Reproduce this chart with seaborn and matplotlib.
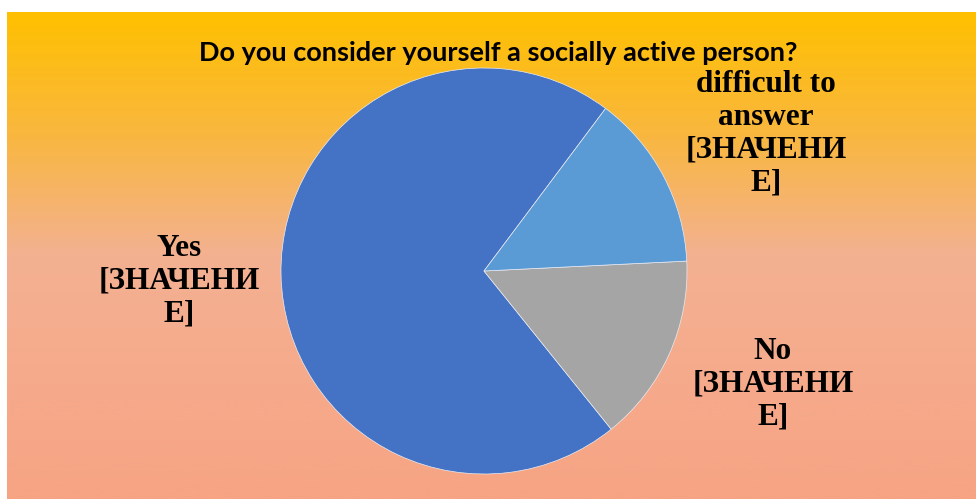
import numpy as np
import matplotlib
matplotlib.use("Agg")
import matplotlib.pyplot as plt
import seaborn as sns
from matplotlib.colors import LinearSegmentedColormap

# data
categories = ["Yes", "No", "difficult to answer"]
values = [71, 15, 14]
labels = ["Yes\n[ЗНАЧЕНИ\nЕ]", "No\n[ЗНАЧЕНИ\nЕ]", "difficult to\nanswer\n[ЗНАЧЕНИ\nЕ]"]
colors = ["#4472C4", "#A5A5A5", "#5B9BD5"]
title = "Do you consider yourself a socially active person?"

sns.set_theme(style="white")

W, H = 976, 502
fig = plt.figure(figsize=(W / 100, H / 100), dpi=100)
fig.patch.set_facecolor("white")

def px(x, y):
    # pixel (from top-left) -> figure fraction
    return x / W, 1 - y / H

# gradient background
bg = fig.add_axes([7 / W, 2 / H, (W - 7) / W, (H - 15) / H])
bg.set_axis_off()
cmap = LinearSegmentedColormap.from_list(
    "bg", [(0.0, "#FFC000"), (0.25, "#F9B73F"), (0.5, "#F3B192"),
           (0.8, "#F6A98A"), (1.0, "#F6A483")])
grad = np.linspace(0, 1, 256).reshape(-1, 1)
bg.imshow(grad, aspect="auto", cmap=cmap, extent=[0, 1, 0, 1], origin="upper")
bg.set_xlim(0, 1)
bg.set_ylim(0, 1)

# pie
cx, cy, r = 484, 272, 203
ax = fig.add_axes([(cx - r) / W, (H - cy - r) / H, 2 * r / W, 2 * r / H])
ax.pie(values, colors=colors, startangle=53.2, counterclock=True,
       wedgeprops=dict(edgecolor="#E8ECF5", linewidth=0.5))
ax.set_xlim(-1, 1)
ax.set_ylim(-1, 1)
ax.set_aspect("equal")
ax.set_axis_off()

# labels
label_pos = [(179, 281), (773, 384), (766, 134)]
for lab, (x, y) in zip(labels, label_pos):
    fx, fy = px(x, y)
    fig.text(fx, fy, lab, ha="center", va="center", multialignment="center",
             family="Liberation Serif", fontweight="bold", fontsize=22.5,
             linespacing=1.17, color="black")

tx, ty = px(498, 53)
fig.text(tx, ty, title, ha="center", va="center", family="Lato",
         fontweight="bold", fontsize=19.5, color="black")

fig.savefig("out.png", dpi=100)
